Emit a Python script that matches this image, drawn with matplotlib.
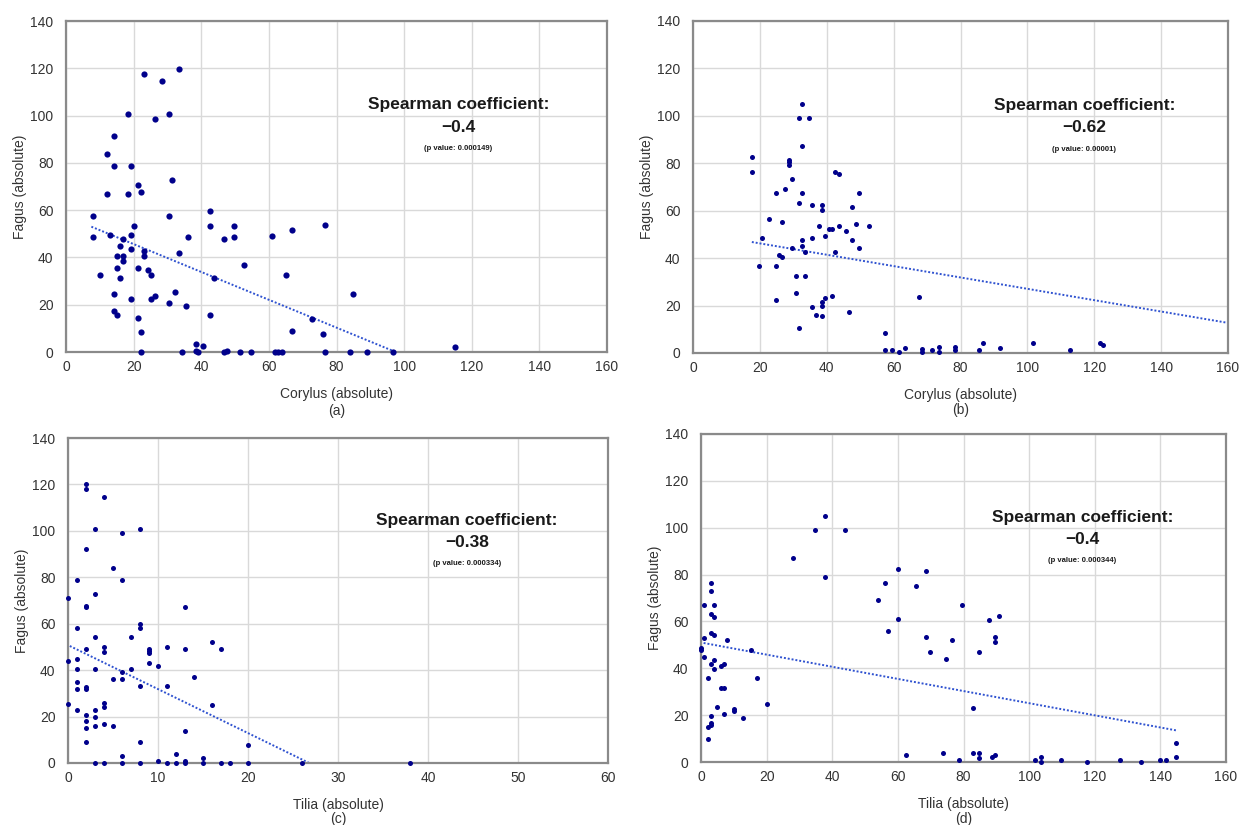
import matplotlib
matplotlib.use("Agg")
import matplotlib.pyplot as plt

plt.rcParams['font.family'] = ['Liberation Sans', 'DejaVu Sans']

# (a) Corylus vs Fagus
corylus_a = [23.2, 33.5, 28.3, 18.2, 26.2, 30.4, 14.2, 12, 14.2, 19.2, 31.3, 21.3, 12, 18.2, 22.2,
             8, 30.4, 42.5, 20.1, 42.5, 49.7, 8, 13, 19.2, 17, 36.2, 46.6, 49.7, 16.1, 19.2,
             23.2, 23.2, 15.1, 17, 17, 33.5, 52.7, 15.1, 21.3, 24.3, 25.2, 10, 16.1, 43.7, 14.2,
             19.2, 25.2, 26.2, 32.3, 30.4, 35.4, 14.2, 15.1, 42.5, 21.3, 22.2, 38.5, 40.5, 22.2, 34.4,
             38.3, 39, 46.6, 47.7, 51.6, 54.7, 60.8, 66.7, 76.7, 65, 85, 72.7, 66.7, 75.9, 61.8,
             62.8, 63.8, 76.7, 83.9, 88.9, 96.8, 115.1]
fagus_a = [117.7, 119.8, 114.8, 100.8, 98.6, 100.8, 91.5, 83.8, 78.7, 78.7, 72.7, 70.6, 66.8, 66.8, 67.7,
           57.6, 57.6, 59.5, 53.5, 53.5, 53.5, 48.7, 49.6, 49.6, 47.7, 48.7, 47.7, 48.7, 44.8, 43.6,
           42.7, 40.7, 40.7, 40.7, 38.4, 41.8, 36.6, 35.5, 35.5, 34.7, 32.5, 32.5, 31.5, 31.5, 24.4,
           22.6, 22.6, 23.6, 25.4, 20.6, 19.5, 17.4, 15.5, 15.5, 14.5, 8.5, 3.2, 2.5, 0, 0,
           0.3, 0, 0, 0.3, 0, 0, 49, 51.7, 53.8, 32.6, 24.7, 13.8, 8.8, 7.8, 0,
           0, 0, 0, 0, 0, 0, 2]
trend_a_x = [7.5, 97.5]
trend_a_y = [53, 0]

# (b) Corylus vs Fagus
corylus_b = [32.5, 31.7, 34.6, 32.5, 17.6, 17.6, 28.6, 28.6, 28.6, 42.6, 43.6, 29.6, 27.6, 24.7, 32.5,
             49.6, 31.7, 35.6, 38.5, 38.5, 47.5, 22.7, 26.7, 37.6, 40.7, 41.7, 43.6, 48.6, 52.5, 45.7,
             20.6, 35.6, 32.5, 39.6, 47.5, 32.5, 29.6, 49.6, 33.6, 42.6, 25.7, 26.7, 19.6, 24.7, 30.7,
             33.6, 30.7, 24.7, 39.6, 41.7, 38.5, 38.5, 35.6, 46.7, 36.8, 38.5, 31.7, 57.3, 57.3,
             59.6, 61.6, 63.5, 67.6, 68.6, 68.6, 71.5, 73.7, 73.7, 78.4, 78.4, 85.6, 86.6, 91.7,
             101.8, 112.6, 121.6, 122.7]
fagus_b = [105.2, 99.3, 99.3, 87.3, 82.5, 76.3, 81.5, 80.6, 79.4, 76.3, 75.5, 73.2, 69.3, 67.3, 67.3,
           67.3, 63.2, 62.3, 62.3, 60.3, 61.4, 56.5, 55.2, 53.4, 52.3, 52.3, 53.4, 54.5, 53.4, 51.4,
           48.3, 48.3, 47.5, 49.4, 47.5, 45.2, 44.4, 44.4, 42.4, 42.4, 41.3, 40.3, 36.5, 36.5, 32.3,
           32.3, 25.4, 22.4, 23.4, 24.2, 21.4, 20, 19.3, 17.3, 16.2, 15.4, 10.4, 8.5, 1.4,
           1.4, 0.3, 2.3, 23.5, 1.7, 0.3, 1.4, 2.4, 0.3, 2.4, 1.4, 1.4, 4.4, 2.3,
           4.4, 1.4, 4.4, 3.4]
trend_b_x = [17.6, 160]
trend_b_y = [46.8, 12.7]

# (c) Tilia vs Fagus
tilia_c = [2, 2, 4, 3, 6, 8, 2, 5, 1, 6, 3, 0, 2, 2, 13, 1, 8, 8, 3, 7, 16, 17, 2, 4, 4, 9, 9, 9, 11, 13,
           0, 1, 1, 3, 7, 6, 9, 10, 5, 6, 14, 8, 11, 1, 1, 2, 2, 0, 4, 4, 16, 1, 2, 3, 3, 2, 2, 3, 4, 5,
           13, 2, 8, 6, 12, 15, 20, 3, 4, 6, 8, 10, 11, 12, 13, 13, 15, 17, 18, 20, 26, 38]
fagus_c = [120, 118, 114.8, 100.9, 99, 100.9, 92, 83.8, 78.9, 78.9, 72.9, 70.9, 67.7, 67.1, 67,
           58, 59.8, 58, 54.1, 54.1, 52.2, 48.9, 48.9, 49.9, 47.8, 48.9, 48.4, 47.5, 49.8, 48.9,
           44, 45, 40.7, 40.7, 40.7, 39, 43, 41.9, 36, 36, 36.9, 33, 33, 34.9, 31.9, 32.9, 31.9,
           25.3, 26, 24, 25.1, 23, 20.8, 23, 19.8, 18.2, 14.9, 16.1, 16.9, 16.1,
           13.8, 9, 9, 2.9, 4, 2.3, 7.9, 0, 0, 0, 0, 0.9, 0, 0, 0.9, 0, 0, 0, 0, 0, 0, 0]
trend_c_x = [0.2, 26.8]
trend_c_y = [50.4, 0]

# (d) Tilia vs Fagus
tilia_d = [37.9, 34.8, 43.9, 27.9, 37.9, 60, 56, 54, 60, 56.9, 65.5, 3, 3, 1, 4, 3, 4, 3, 4, 1,
           7.9, 0, 0, 15.2, 1, 4, 3, 6, 7, 4, 2, 17, 6, 7, 20, 5, 7, 10, 10, 12.9, 3, 3, 3, 2, 2,
           68.7, 79.6, 90.7, 87.7, 68.7, 76.6, 89.6, 89.6, 69.7, 84.7, 74.7, 82.8, 62.6, 73.8,
           78.7, 82.8, 84.7, 84.7, 88.7, 89.7, 101.7, 103.7, 103.7, 109.6, 117.7, 127.6, 134,
           139.9, 141.8, 144.8, 144.8]
fagus_d = [105.2, 99.2, 99.2, 87, 79, 82.3, 76.2, 69.2, 60.9, 56.1, 75.2, 76.2, 73.2, 66.9, 66.9,
           63.1, 62.1, 55.1, 54, 53.1, 52, 48.8, 47.8, 47.8, 44.8, 43.7, 41.9, 40.9, 41.9, 39.9,
           35.9, 35.9, 31.7, 31.7, 24.6, 23.6, 20.6, 22.8, 21.8, 18.6, 19.8, 16.7, 15.8, 14.8, 9.8,
           81.4, 67.2, 62.5, 60.5, 53.4, 52.2, 53.4, 51.1, 47.1, 47.1, 44.1, 23.2, 3.1, 3.8,
           1, 3.8, 3.8, 1.9, 2.1, 3, 1, 2.1, 0, 1, 0, 1, 0, 1, 1, 8, 2]
trend_d_x = [0.8, 144.8]
trend_d_y = [50.8, 13.5]

W, H = 1240, 825


def px_rect(left, top, right, bottom):
    return [left / W, 1 - bottom / H, (right - left) / W, (bottom - top) / H]


panels = [
    dict(rect=px_rect(66, 21, 607, 352), x=corylus_a, y=fagus_a, tx=trend_a_x, ty=trend_a_y,
         xmax=160, xstep=20, xlabel="Corylus (absolute)", tag="(a)", tagy=411, rho="\u22120.4",
         p="(p value: 0.000149)", s=20, textx=116),
    dict(rect=px_rect(693, 21, 1228, 353), x=corylus_b, y=fagus_b, tx=trend_b_x, ty=trend_b_y,
         xmax=160, xstep=20, xlabel="Corylus (absolute)", tag="(b)", tagy=410, rho="\u22120.62",
         p="(p value: 0.00001)", s=13, textx=117),
    dict(rect=px_rect(68, 438, 608, 763), x=tilia_c, y=fagus_c, tx=trend_c_x, ty=trend_c_y,
         xmax=60, xstep=10, xlabel="Tilia (absolute)", tag="(c)", tagy=819, rho="\u22120.38",
         p="(p value: 0.000334)", s=13, textx=44.3),
    dict(rect=px_rect(701, 434, 1226, 762), x=tilia_d, y=fagus_d, tx=trend_d_x, ty=trend_d_y,
         xmax=160, xstep=20, xlabel="Tilia (absolute)", tag="(d)", tagy=819, rho="\u22120.4",
         p="(p value: 0.000344)", s=13, textx=116.3),
]

fig = plt.figure(figsize=(W / 100, H / 100), dpi=100)

for pnl in panels:
    ax = fig.add_axes(pnl["rect"])
    ax.set_xlim(0, pnl["xmax"])
    ax.set_ylim(0, 140)
    ax.set_xticks(range(0, pnl["xmax"] + 1, pnl["xstep"]))
    ax.set_yticks(range(0, 141, 20))
    ax.grid(True, color="#d9d9d9", lw=1)
    ax.set_axisbelow(True)
    for sp in ax.spines.values():
        sp.set_color("#8a8a8a")
        sp.set_linewidth(1.6)
    ax.tick_params(length=0, labelsize=10, labelcolor="#333333")
    ax.tick_params(axis="x", pad=6)
    ax.tick_params(axis="y", pad=9)

    ax.scatter(pnl["x"], pnl["y"], s=pnl["s"], color="#00008b", zorder=3, clip_on=False,
               linewidths=0)
    ax.plot(pnl["tx"], pnl["ty"], color="#2f52d0", lw=1.4, linestyle=(0, (1, 1)), zorder=2)

    ax.set_xlabel(pnl["xlabel"], fontsize=10, color="#333333", labelpad=9)
    ax.set_ylabel("Fagus (absolute)", fontsize=10, color="#333333", labelpad=2)

    ax.text(pnl["textx"], 104.5, "Spearman coefficient:", ha="center", va="center",
            fontsize=12.5, fontweight="bold", color="#1a1a1a")
    ax.text(pnl["textx"], 95, pnl["rho"], ha="center", va="center",
            fontsize=12.5, fontweight="bold", color="#1a1a1a")
    ax.text(pnl["textx"], 86, pnl["p"], ha="center", va="center",
            fontsize=5.5, fontweight="bold", color="#1a1a1a")

    bb = pnl["rect"]
    fig.text(bb[0] + bb[2] / 2, 1 - pnl["tagy"] / H, pnl["tag"], ha="center", va="center",
             fontsize=10, color="#333333")

fig.savefig("out.png", dpi=100)
